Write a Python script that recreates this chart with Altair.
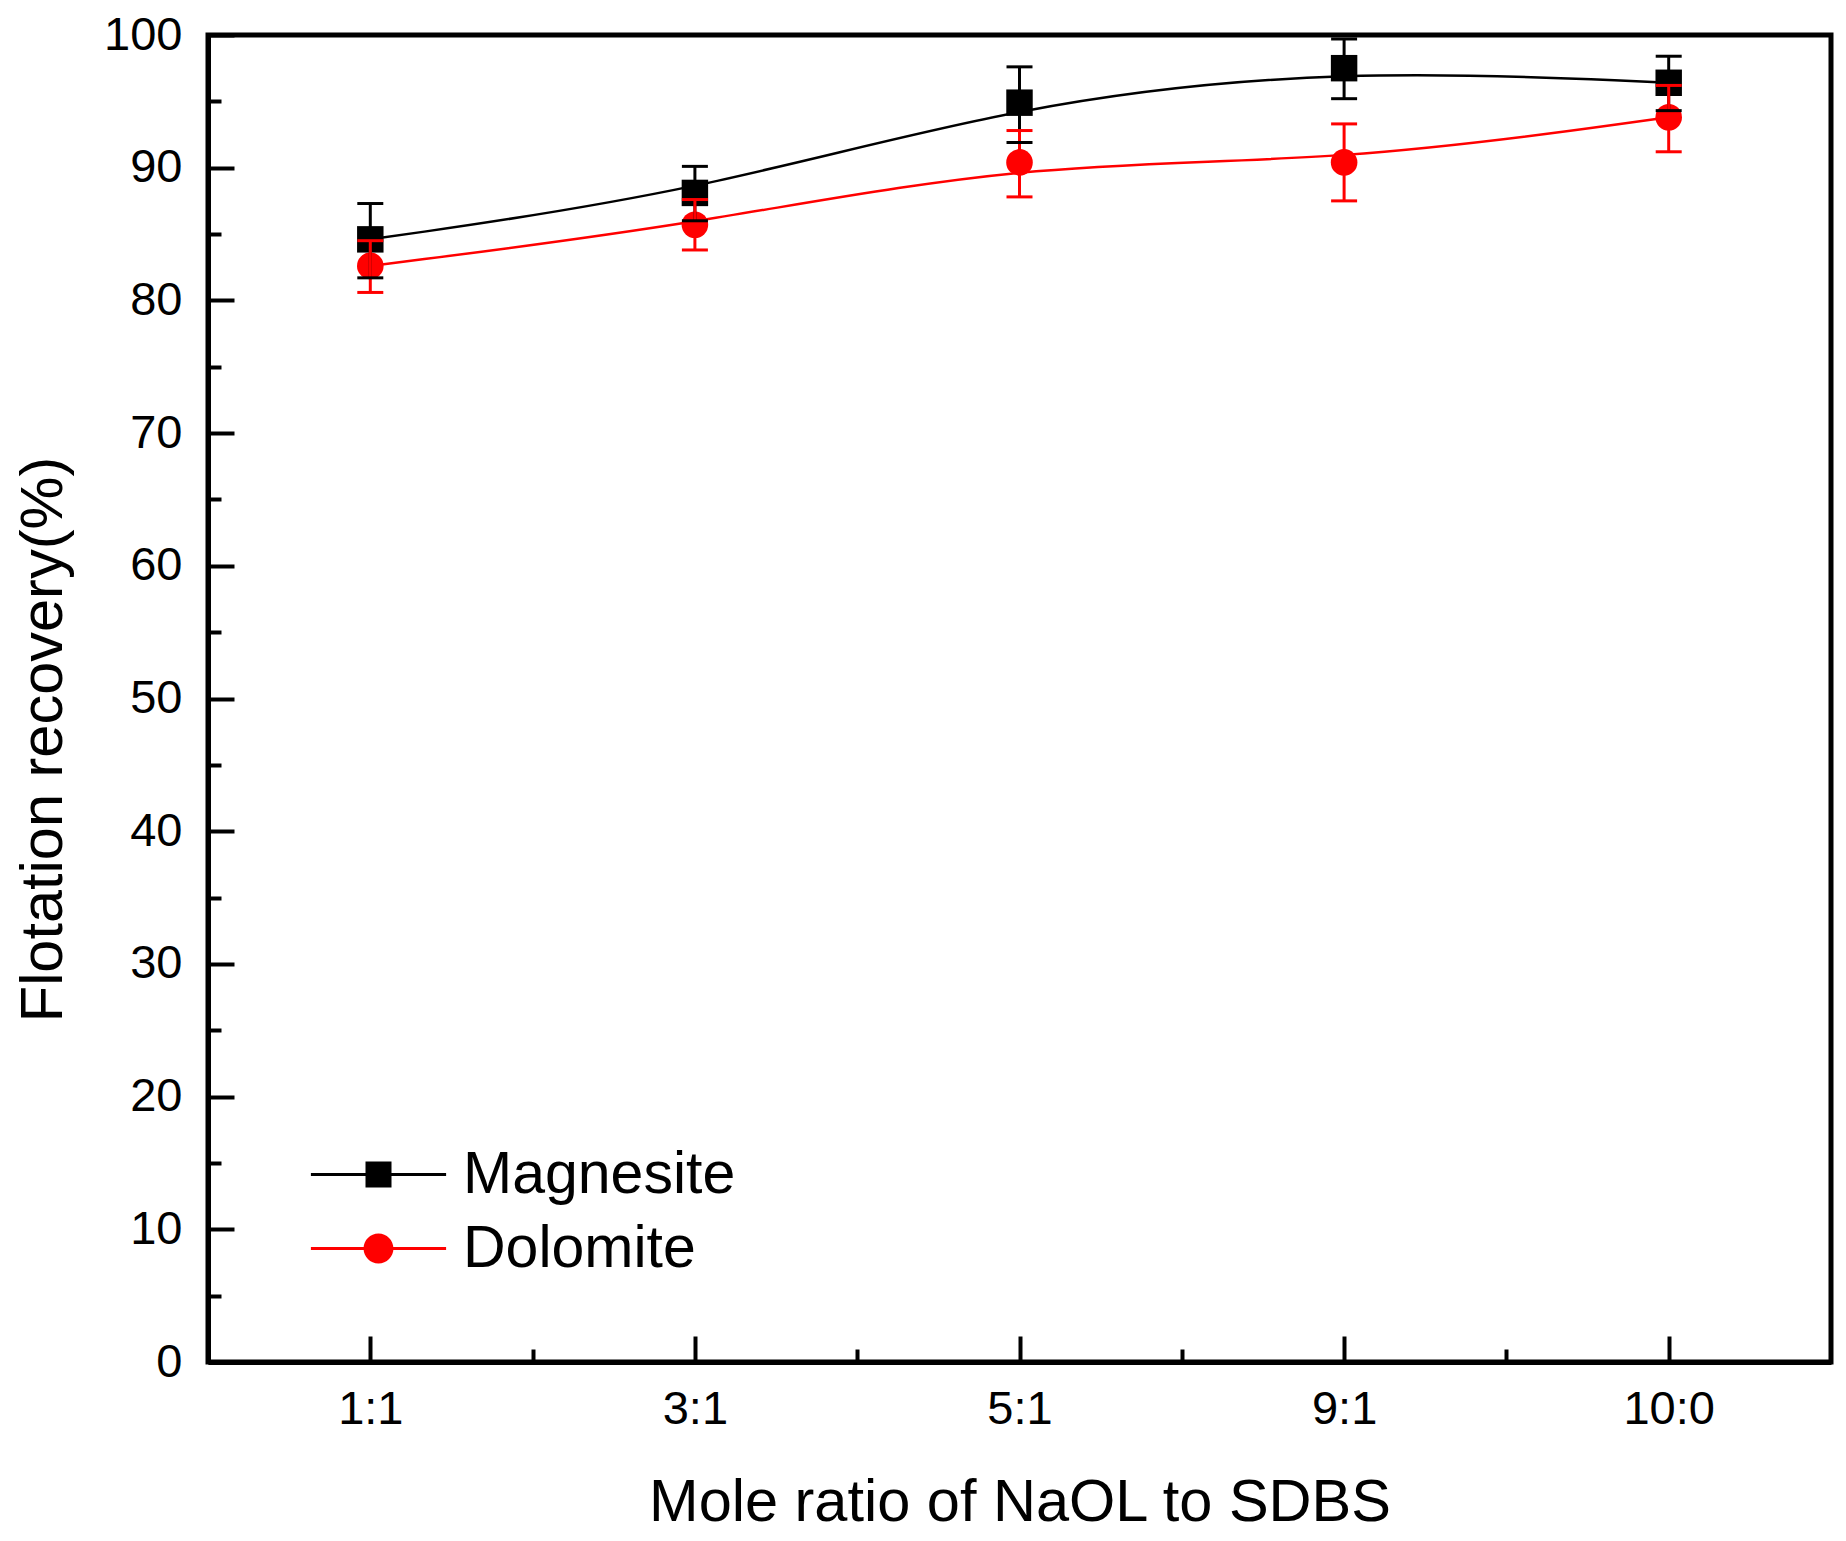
import altair as alt
import pandas as pd

# mole ratio NaOL:SDBS on the x axis
ratios = ["1:1", "3:1", "5:1", "9:1", "10:0"]
series = ["Magnesite", "Dolomite"]
colors = ["black", "red"]

# flotation recovery (%) and error bar ends
magnesite = [84.6, 88.1, 94.9, 97.5, 96.4]
magnesite_lo = [81.7, 86.0, 91.9, 95.2, 94.3]
magnesite_hi = [87.3, 90.1, 97.6, 99.7, 98.4]

dolomite = [82.6, 85.7, 90.4, 90.4, 93.8]
dolomite_lo = [80.6, 83.8, 87.8, 87.5, 91.2]
dolomite_hi = [84.5, 87.6, 92.8, 93.3, 96.2]

# legend symbols: line segment plus marker (unit coords, 13px per unit)
SQUARE_SYM = "M-5.2,-0.12H5.2V0.12H-5.2Z M-1,-1H1V1H-1Z"
CIRCLE_SYM = "M-5.2,-0.12H5.2V0.12H-5.2Z M1.15,0A1.15,1.15,0,1,1,-1.15,0A1.15,1.15,0,1,1,1.15,0Z"

FONT = "Liberation Sans"
W, H = 1623, 1327

rows = []
for name, vals, lo, hi in [
    ("Magnesite", magnesite, magnesite_lo, magnesite_hi),
    ("Dolomite", dolomite, dolomite_lo, dolomite_hi),
]:
    for i, r in enumerate(ratios):
        rows.append(
            {"series": name, "idx": i + 1, "ratio": r, "value": vals[i], "lo": lo[i], "hi": hi[i]}
        )
df = pd.DataFrame(rows)

x_scale = alt.Scale(domain=[0.5, len(ratios) + 0.5], nice=False, zero=False)
y_scale = alt.Scale(domain=[0, 100], nice=False)
color_scale = alt.Scale(domain=series, range=colors)
# same mapping, listed the other way round so its (hidden) legends stay apart
mark_scale = alt.Scale(domain=series[::-1], range=colors[::-1])

label_expr = "[" + ",".join(f"'{r}'" for r in ratios) + "][datum.value - 1]"

x_major = alt.Axis(
    orient="bottom",
    values=list(range(1, len(ratios) + 1)),
    labelExpr=label_expr,
    tickSize=alt.ExprRef(expr="-26"),
    labelPadding=50,
    title="Mole ratio of NaOL to SDBS",
    titlePadding=41,
    titleFontSize=59.5,
)
x_minor = alt.Axis(
    orient="bottom",
    values=[i + 0.5 for i in range(1, len(ratios))],
    labels=False,
    domain=False,
    tickSize=alt.ExprRef(expr="-13"),
    title=None,
)
y_major = alt.Axis(
    orient="left",
    values=list(range(0, 101, 10)),
    tickSize=alt.ExprRef(expr="-26"),
    labelPadding=52,
    title="Flotation recovery(%)",
    titlePadding=30,
    titleY=704,
    titleFontSize=59.5,
)
y_minor = alt.Axis(
    orient="left",
    values=list(range(5, 100, 10)),
    labels=False,
    domain=False,
    tickSize=alt.ExprRef(expr="-13"),
    title=None,
)

legend = alt.Legend(
    title=None,
    orient="none",
    legendX=141,
    legendY=1110,
    padding=0,
    symbolSize=676,
    symbolStrokeWidth=0,
    symbolOpacity=1,
    labelOffset=55,
    labelFont=FONT,
    labelFontSize=59,
    labelColor="black",
    labelLimit=500,
    rowPadding=14,
)

base = alt.Chart(df)
stroke_enc = alt.Stroke("series:N", scale=mark_scale, legend=None)
fill_enc = alt.Fill("series:N", scale=mark_scale, legend=None)

lines = base.mark_line(strokeWidth=2.5, interpolate="basis").encode(
    x=alt.X("idx:Q", scale=x_scale, axis=x_major),
    y=alt.Y("value:Q", scale=y_scale, axis=y_major),
    stroke=stroke_enc,
    detail="series:N",
)

squares = (
    base.transform_filter(alt.datum.series == "Magnesite")
    .mark_square(size=700, opacity=1)
    .encode(
        x=alt.X("idx:Q", scale=x_scale, axis=x_minor),
        y=alt.Y("value:Q", scale=y_scale, axis=y_minor),
        fill=fill_enc,
    )
)

circles = (
    base.transform_filter(alt.datum.series == "Dolomite")
    .mark_circle(size=707, opacity=1)
    .encode(
        x=alt.X("idx:Q", scale=x_scale, axis=None),
        y=alt.Y("value:Q", scale=y_scale, axis=None),
        fill=fill_enc,
    )
)

bars = base.mark_rule(strokeWidth=3).encode(
    x=alt.X("idx:Q", scale=x_scale, axis=None),
    y=alt.Y("lo:Q", scale=y_scale, axis=None),
    y2="hi:Q",
    stroke=stroke_enc,
)

caps_lo = base.mark_tick(orient="horizontal", size=26, thickness=3, opacity=1).encode(
    x=alt.X("idx:Q", scale=x_scale, axis=None),
    y=alt.Y("lo:Q", scale=y_scale, axis=None),
    fill=fill_enc,
)
caps_hi = base.mark_tick(orient="horizontal", size=26, thickness=3, opacity=1).encode(
    x=alt.X("idx:Q", scale=x_scale, axis=None),
    y=alt.Y("hi:Q", scale=y_scale, axis=None),
    fill=fill_enc,
)

# carries the legend only, draws nothing
legend_layer = (
    base.transform_filter("false")
    .mark_point(filled=True, opacity=1)
    .encode(
        color=alt.Color("series:N", scale=color_scale, legend=legend),
        shape=alt.Shape(
            "series:N",
            scale=alt.Scale(domain=series, range=[SQUARE_SYM, CIRCLE_SYM]),
            legend=legend,
        ),
    )
)

chart = (
    alt.layer(lines, squares, circles, bars, caps_lo, caps_hi, legend_layer)
    .resolve_axis(x="independent", y="independent")
    .properties(
        width=W,
        height=H,
        padding={"left": 200, "top": 27, "right": 7, "bottom": 171},
        autosize=alt.AutoSizeParams(type="none"),
        background="white",
    )
    .configure_view(stroke="black", strokeWidth=5)
    .configure_axis(
        grid=False,
        labelFont=FONT,
        labelFontSize=47,
        labelColor="black",
        tickColor="black",
        tickWidth=4,
        domainColor="black",
        domainWidth=5,
        titleFont=FONT,
        titleFontWeight="normal",
        titleColor="black",
        labelFlush=False,
    )
)

chart.save("out.html", embed_options={"renderer": "svg", "actions": False})
